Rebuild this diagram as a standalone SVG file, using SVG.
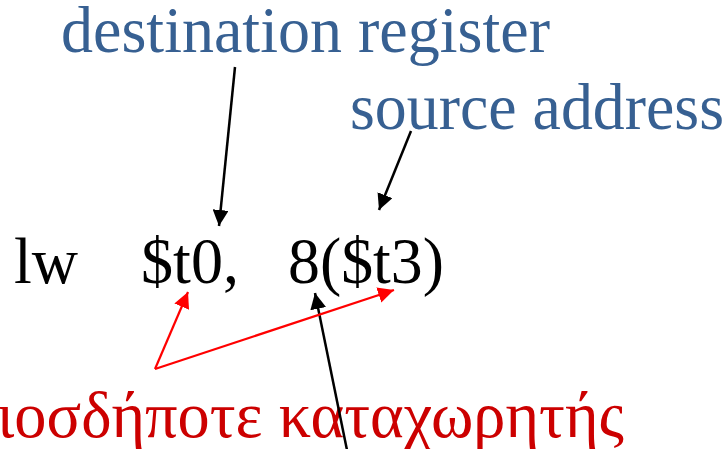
<svg xmlns="http://www.w3.org/2000/svg" width="727" height="449" viewBox="0 0 727 449">
  <defs>
    <style>
      .lbl { font-family: "Liberation Serif", "Times New Roman", serif; font-size: 66px; }
      .blue { fill: #376092; }
      .code { fill: #000000; }
      .red { fill: #CC0000; }
      .arrow-k { stroke: #000000; stroke-width: 2.5; fill: none; }
      .arrow-r { stroke: #FF0000; stroke-width: 2.2; fill: none; }
    </style>
    <marker id="headK" viewBox="0 0 16 16" refX="16" refY="8" markerWidth="16" markerHeight="16" markerUnits="userSpaceOnUse" orient="auto">
      <path d="M0,0 L16,8 L0,16 Z" fill="#000000"/>
    </marker>
    <marker id="headR" viewBox="0 0 16 16" refX="16" refY="8" markerWidth="16" markerHeight="16" markerUnits="userSpaceOnUse" orient="auto">
      <path d="M0,0 L16,8 L0,16 Z" fill="#FF0000"/>
    </marker>
  </defs>

  <rect width="727" height="449" fill="#FFFFFF"/>

  <g id="label-destination">
    <text class="lbl blue" x="61" y="52" textLength="489" lengthAdjust="spacingAndGlyphs">destination register</text>
  </g>

  <g id="label-source">
    <text class="lbl blue" x="350" y="129" textLength="374" lengthAdjust="spacingAndGlyphs">source address</text>
  </g>

  <g id="instruction">
    <text class="lbl code" x="14" y="283" textLength="64" lengthAdjust="spacingAndGlyphs">lw</text>
    <text class="lbl code" x="141" y="283" textLength="98" lengthAdjust="spacingAndGlyphs">$t0,</text>
    <text class="lbl code" x="288" y="283" textLength="156" lengthAdjust="spacingAndGlyphs">8($t3)</text>
  </g>

  <g id="label-any-register">
    <text class="lbl red" x="-3" y="437" textLength="627" lengthAdjust="spacingAndGlyphs">ιοσδήποτε καταχωρητής</text>
  </g>

  <g id="connectors">
    <line class="arrow-k" x1="235" y1="67" x2="219" y2="226" marker-end="url(#headK)"/>
    <line class="arrow-k" x1="411" y1="131" x2="379" y2="210" marker-end="url(#headK)"/>
    <line class="arrow-k" x1="348" y1="455" x2="315" y2="293" marker-end="url(#headK)"/>
    <line class="arrow-r" x1="155" y1="369" x2="188" y2="292" marker-end="url(#headR)"/>
    <line class="arrow-r" x1="155" y1="369" x2="394" y2="290" marker-end="url(#headR)"/>
  </g>
</svg>
